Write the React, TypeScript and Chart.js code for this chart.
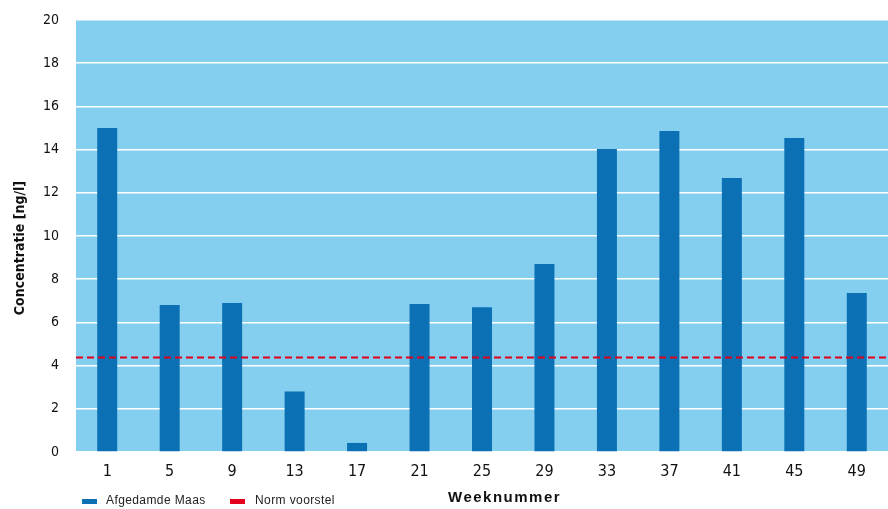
import React, { useEffect, useRef } from "react";
import { Chart, registerables } from "chart.js";

Chart.register(...registerables);

const weeks = ["1", "5", "9", "13", "17", "21", "25", "29", "33", "37", "41", "45", "49"];
const concentration = [15.0, 6.8, 6.9, 2.8, 0.42, 6.85, 6.7, 8.7, 14.03, 14.86, 12.68, 14.54, 7.36];
const normValue = 4.38;
const seriesLabel = "Afgedamde Maas";
const normLabel = "Norm voorstel";
const xTitle = "Weeknummer";
const yTitle = "Concentratie [ng/l]";

const BAR_COLOR = "#0b70b4";
const PLOT_BG = "#84cfef";
const NORM_COLOR = "#e2001a";
const NARROW = "'Liberation Sans Narrow', 'DejaVu Sans Condensed', sans-serif";
const SANS = "'Liberation Sans', Arial, sans-serif";

const plotBackground = {
  id: "plotBackground",
  beforeDraw(chart: any) {
    const { ctx, chartArea } = chart;
    ctx.save();
    ctx.fillStyle = PLOT_BG;
    ctx.fillRect(chartArea.left, chartArea.top, chartArea.right - chartArea.left, chartArea.bottom - chartArea.top);
    ctx.restore();
  },
};

const normLine = {
  id: "normLine",
  afterDatasetsDraw(chart: any) {
    const { ctx, chartArea, scales } = chart;
    const y = scales.y.getPixelForValue(normValue);
    ctx.save();
    ctx.strokeStyle = NORM_COLOR;
    ctx.lineWidth = 2;
    ctx.setLineDash([7, 4]);
    ctx.beginPath();
    ctx.moveTo(chartArea.left, y);
    ctx.lineTo(chartArea.right, y);
    ctx.stroke();
    ctx.restore();
  },
};

// Axis titles and legend drawn around the plot area
const annotations = {
  id: "annotations",
  afterDraw(chart: any) {
    const { ctx } = chart;
    ctx.save();
    // y axis title, rotated
    ctx.save();
    ctx.translate(20, 248);
    ctx.rotate(-Math.PI / 2);
    ctx.fillStyle = "#111";
    ctx.font = `bold 14px ${NARROW}`;
    ctx.textAlign = "center";
    ctx.textBaseline = "middle";
    ctx.fillText(yTitle, 0, 0);
    ctx.restore();
    // legend
    ctx.fillStyle = BAR_COLOR;
    ctx.fillRect(82, 499, 15, 5);
    ctx.fillStyle = NORM_COLOR;
    ctx.fillRect(230, 499, 15, 5);
    ctx.fillStyle = "#222";
    ctx.font = `12px ${SANS}`;
    (ctx as any).letterSpacing = "0.4px";
    ctx.textBaseline = "middle";
    ctx.textAlign = "left";
    ctx.fillText(seriesLabel, 106, 501);
    ctx.fillText(normLabel, 255, 501);
    // x axis title
    (ctx as any).letterSpacing = "1.5px";
    ctx.fillStyle = "#111";
    ctx.font = `bold 15px ${SANS}`;
    ctx.fillText(xTitle, 448, 498);
    ctx.restore();
  },
};

export default function App() {
  const canvasRef = useRef<HTMLCanvasElement | null>(null);

  useEffect(() => {
    document.body.style.margin = "0";
    const canvas = canvasRef.current;
    if (!canvas) return;
    const chart = new Chart(canvas, {
      type: "bar",
      data: {
        labels: weeks,
        datasets: [
          {
            label: seriesLabel,
            data: concentration,
            backgroundColor: BAR_COLOR,
            categoryPercentage: 1,
            barPercentage: 0.32,
          },
        ],
      },
      options: {
        animation: false,
        responsive: false,
        maintainAspectRatio: false,
        layout: { padding: { top: 20, right: 0, bottom: 0, left: 0 } },
        plugins: {
          legend: { display: false },
          tooltip: { enabled: false },
        },
        scales: {
          x: {
            afterFit(scale: any) {
              scale.height = 57;
              scale.paddingLeft = 0;
              scale.paddingRight = 0;
            },
            grid: { display: false },
            border: { display: false },
            ticks: {
              color: "#111",
              font: { family: NARROW, size: 16 },
              padding: 2,
            },
          },
          y: {
            min: 0,
            max: 20,
            afterFit(scale: any) {
              scale.width = 76;
              scale.paddingTop = 0;
              scale.paddingBottom = 0;
            },
            grid: { color: "#ffffff", lineWidth: 1.5, drawTicks: false },
            border: { display: false },
            ticks: {
              stepSize: 2,
              color: "#111",
              font: { family: NARROW, size: 14 },
              padding: 17,
            },
          },
        },
      },
      plugins: [plotBackground, normLine, annotations],
    });
    return () => chart.destroy();
  }, []);

  return (
    <div style={{ position: "absolute", left: 0, top: 0, width: 888, height: 509, background: "#fff" }}>
      <canvas ref={canvasRef} width={888} height={509} style={{ width: 888, height: 509 }} />
    </div>
  );
}
